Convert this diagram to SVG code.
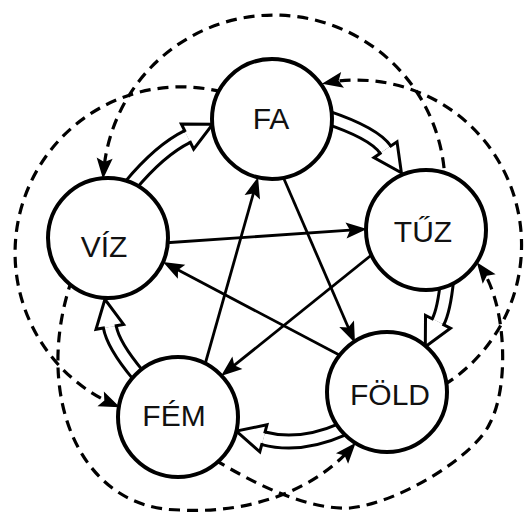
<svg xmlns="http://www.w3.org/2000/svg" width="526" height="516" viewBox="0 0 526 516">
<style>
.node circle{fill:#fff;stroke:#000;stroke-width:4}
.node text{font-family:"Liberation Sans",Arial,sans-serif;font-size:30px;fill:#111;text-anchor:middle}
.ctrl{fill:none;stroke:#000;stroke-width:2.8;marker-end:url(#arrow)}
.dash{fill:none;stroke:#000;stroke-width:3.2;stroke-dasharray:11 7;marker-end:url(#arrow)}
.hb{fill:none;stroke:#000;stroke-width:16}
.hw{fill:none;stroke:#fff;stroke-width:10;marker-end:url(#hollow)}
</style>
<defs>
<marker id="arrow" markerUnits="userSpaceOnUse" orient="auto" refX="0" refY="0" markerWidth="30" markerHeight="30" overflow="visible">
<path d="M6,0 L-15,-8 L-11,0 L-15,8 Z" fill="#000"/>
</marker>
<marker id="hollow" markerUnits="userSpaceOnUse" orient="auto" refX="0" refY="0" markerWidth="40" markerHeight="40" overflow="visible">
<path d="M0,-6.5 L0,-14 L28,0 L0,14 L0,6.5" fill="#fff" stroke="#000" stroke-width="3" stroke-linejoin="miter" stroke-linecap="square"/>
</marker>
</defs>
<rect width="526" height="516" fill="#fff"/>
<g id="connectors">
<path class="dash" d="M445,186 A171,171 0 0 0 103.5,173"/>
<path class="dash" d="M222,92 A166,166 0 0 0 114.4,404.9"/>
<path class="dash" d="M444,385 A165,165 0 0 0 327.8,82.6"/>
<path class="dash" d="M72,279 C32,395 80,510 180,510 C250,514 315,490 351.8,447.2"/>
<path class="dash" d="M215,460 C253,482.5 305,510 350,508 C400,503 476,455 490,423 C510,385 506,302 480.3,267"/>
<path class="ctrl" d="M281,172 L352.6,337.5"/>
<path class="ctrl" d="M204,368 L256.4,182.8"/>
<path class="ctrl" d="M374,253 L225.7,372.2"/>
<path class="ctrl" d="M163,243 L361,229.4"/>
<path class="ctrl" d="M345,358 L168.3,264.8"/>
<path class="hb" d="M326,117 Q374,133 385.5,149.7"/>
<path class="hw" d="M326,117 Q374,133 385.5,149.7"/>
<path class="hb" d="M447,281 Q444,310 438,321.8"/>
<path class="hw" d="M447,281 Q444,310 438,321.8"/>
<path class="hb" d="M343,429 Q300,448 263.4,438.3"/>
<path class="hw" d="M343,429 Q300,448 263.4,438.3"/>
<path class="hb" d="M138,375 Q113,345 109.8,326.9"/>
<path class="hw" d="M138,375 Q113,345 109.8,326.9"/>
<path class="hb" d="M130,186 Q160,150 187.5,136.5"/>
<path class="hw" d="M130,186 Q160,150 187.5,136.5"/>
</g>
<g id="fa" class="node"><circle cx="272" cy="119" r="60"/><text x="271" y="129">FA</text></g>
<g id="tuz" class="node"><circle cx="426" cy="230" r="60"/><text x="423" y="242">TŰZ</text></g>
<g id="viz" class="node"><circle cx="108" cy="238" r="60"/><text x="104" y="257">VÍZ</text></g>
<g id="fem" class="node"><circle cx="178" cy="417" r="60"/><text x="174" y="426">FÉM</text></g>
<g id="fold" class="node"><circle cx="387" cy="392" r="60"/><text x="390" y="405">FÖLD</text></g>
</svg>
